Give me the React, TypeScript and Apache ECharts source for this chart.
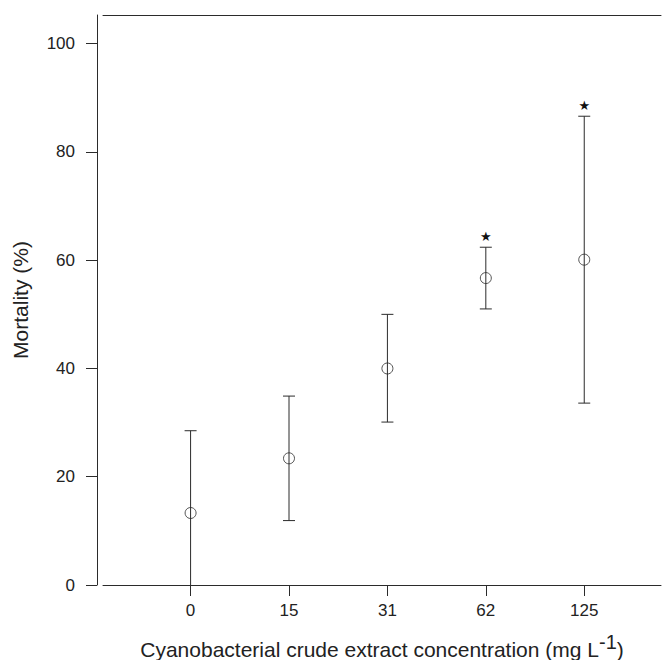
import React, { useEffect, useRef } from "react";
import * as echarts from "echarts";

const categories = ["0", "15", "31", "62", "125"];
const means = [13.3, 23.4, 40.0, 56.7, 60.1];
const upper = [28.5, 34.9, 50.0, 62.4, 86.6];
const lower = [-1.9, 11.9, 30.1, 51.0, 33.6];
const significant = [false, false, false, true, true];
const yTicks = [0, 20, 40, 60, 80, 100];

const FONT = "'Liberation Sans', Arial, sans-serif";
const LINE = "#2b2b2b";
const TEXT = "#222";

export default function App() {
  const ref = useRef<HTMLDivElement>(null);
  useEffect(() => {
    if (!ref.current) return;
    const chart = echarts.init(ref.current, undefined, { renderer: "svg" });
    const idx = categories.map((_, i) => i);
    const errData = idx.map((i) => [i, lower[i], upper[i], significant[i] ? 1 : 0]);
    const meanData = idx.map((i) => [i, means[i]]);
    chart.setOption({
      animation: false,
      backgroundColor: "#fff",
      grid: { left: 103, right: 1, top: 15, bottom: 75, outerBoundsMode: "none", containLabel: false },
      xAxis: [
        {
          type: "value",
          position: "bottom",
          min: -0.89,
          max: 4.78,
          splitLine: { show: false },
          axisLine: { show: true, onZero: false, lineStyle: { color: LINE, width: 1 } },
          axisTick: { show: true, length: 11, customValues: idx, lineStyle: { color: LINE } },
          axisLabel: {
            customValues: idx,
            formatter: (v: number) => categories[Math.round(v)] ?? "",
            color: TEXT,
            fontFamily: FONT,
            fontSize: 17,
            margin: 17,
          },
          name: "Cyanobacterial crude extract concentration (mg L{sup|-1})",
          nameLocation: "middle",
          nameGap: 47,
          nameTextStyle: {
            color: TEXT,
            fontFamily: FONT,
            fontSize: 21,
            rich: {
              sup: { fontFamily: FONT, fontSize: 20, color: TEXT, verticalAlign: "bottom", padding: [0, 0, 14, 0] },
            },
          },
        },
        {
          type: "value",
          position: "top",
          min: -0.89,
          max: 4.78,
          splitLine: { show: false },
          axisLine: { show: true, onZero: false, lineStyle: { color: LINE, width: 1 } },
          axisTick: { show: false },
          axisLabel: { show: false },
        },
      ],
      yAxis: {
        type: "value",
        min: 0,
        max: 105.3,
        offset: 6,
        splitLine: { show: false },
        axisLine: { show: true, onZero: false, lineStyle: { color: LINE, width: 1 } },
        axisTick: { show: true, length: 11, customValues: yTicks, lineStyle: { color: LINE } },
        axisLabel: {
          customValues: yTicks,
          color: TEXT,
          fontFamily: FONT,
          fontSize: 17,
          margin: 22,
        },
        name: "Mortality (%)",
        nameLocation: "middle",
        nameGap: 66,
        nameTextStyle: { color: TEXT, fontFamily: FONT, fontSize: 21 },
      },
      series: [
        {
          type: "custom",
          xAxisIndex: 0,
          clip: true,
          data: errData,
          renderItem: (params: any, api: any) => {
            const x = api.value(0);
            const lo = api.value(1);
            const hi = api.value(2);
            const sig = api.value(3);
            const pTop = api.coord([x, hi]);
            const pBot = api.coord([x, lo]);
            const hw = 6;
            const style = { stroke: LINE, lineWidth: 1 };
            const children: any[] = [
              { type: "line", shape: { x1: pTop[0], y1: pTop[1], x2: pBot[0], y2: pBot[1] }, style },
              { type: "line", shape: { x1: pTop[0] - hw, y1: pTop[1], x2: pTop[0] + hw, y2: pTop[1] }, style },
              { type: "line", shape: { x1: pBot[0] - hw, y1: pBot[1], x2: pBot[0] + hw, y2: pBot[1] }, style },
            ];
            if (sig) {
              children.push({
                type: "text",
                x: pTop[0],
                y: pTop[1] - 4,
                style: {
                  text: "★",
                  fill: "#111",
                  fontSize: 13,
                  fontFamily: "'DejaVu Sans', sans-serif",
                  align: "center",
                  verticalAlign: "bottom",
                },
              });
            }
            return { type: "group", children };
          },
          z: 2,
        },
        {
          type: "scatter",
          xAxisIndex: 0,
          data: meanData,
          symbol: "circle",
          symbolSize: 11,
          itemStyle: { color: "rgba(0,0,0,0)", borderColor: LINE, borderWidth: 1 },
          z: 3,
        },
      ],
    });
    return () => chart.dispose();
  }, []);
  return (
    <div
      ref={ref}
      style={{ position: "fixed", left: 0, top: 0, width: 662, height: 660, background: "#fff" }}
    />
  );
}
